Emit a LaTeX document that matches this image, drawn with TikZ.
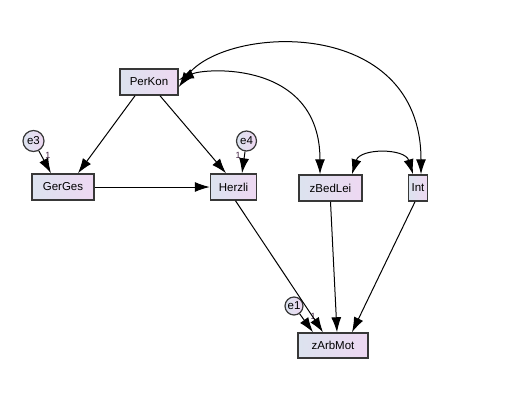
\documentclass[tikz,border=0pt]{standalone}
\usepackage{fontspec}
\setmainfont{Liberation Sans}
\usetikzlibrary{arrows.meta}
\definecolor{boxL}{HTML}{DCE3EF}
\definecolor{boxR}{HTML}{EED8F2}
\definecolor{edgec}{HTML}{383838}
\definecolor{onec}{HTML}{402040}
\tikzset{
  obs/.style={draw=edgec, line width=1.5pt, left color=boxL, right color=boxR,
    inner sep=0pt, font=\fontsize{11.5}{13}\selectfont},
  err/.style={circle, draw=edgec, line width=1.2pt, left color=boxL, right color=boxR,
    inner sep=0pt, font=\fontsize{11.5}{13}\selectfont},
  tip/.style={},
  path/.style={line width=1pt, -{Latex[length=15pt,width=10pt]}},
  cov/.style={line width=1pt, {Latex[length=15pt,width=10pt]}-{Latex[length=15pt,width=10pt]}},
  onelab/.style={font=\fontsize{9}{10}\selectfont, text=onec, inner sep=0pt}
}
\begin{document}
\begin{tikzpicture}[x=1pt,y=-1pt]
\useasboundingbox (0,0) rectangle (510,402);
% observed variables
\node[obs, minimum width=58pt, minimum height=26pt] (PerKon) at (149,82) {PerKon};
\node[obs, minimum width=62pt, minimum height=26pt] (GerGes) at (63,187) {GerGes};
\node[obs, minimum width=46pt, minimum height=26pt] (Herzli) at (233.5,187) {Herzli};
\node[obs, minimum width=63pt, minimum height=26pt] (zBedLei) at (330.5,188) {zBedLei};
\node[obs, minimum width=19pt, minimum height=26pt] (Int) at (418,188) {Int};
\node[obs, minimum width=70pt, minimum height=25pt] (zArbMot) at (333,345.5) {zArbMot};
% errors
\node[err, minimum size=21pt] (e3) at (33.5,141) {e3};
\node[err, minimum size=20pt] (e4) at (246.5,141) {e4};
\node[err, minimum size=18pt] (e1) at (294,306) {e1};
% labels
\node[onelab] (l3) at (48,155) {1};
\node[onelab] (l4) at (238,155) {1};
\node[onelab] (l1) at (313,316) {1};
% regression paths
\draw[path] ([xshift=-14pt]PerKon.south) -- ([xshift=15pt]GerGes.north);
\draw[path] ([xshift=11pt]PerKon.south) -- ([xshift=-7.5pt]Herzli.north);
\draw[path] (GerGes) -- (Herzli);
\draw[path] ([xshift=2pt]Herzli.south) -- ([xshift=-10pt]zArbMot.north);
\draw[path] (zBedLei.south) -- ([xshift=4pt]zArbMot.north);
\draw[path] ([xshift=-3pt]Int.south) -- ([xshift=19pt]zArbMot.north);
% error paths
\draw[path] (e3) -- ([xshift=-12pt]GerGes.north);
\draw[path] (e4) -- ([xshift=8.5pt]Herzli.north);
\draw[path] (e1) -- ([xshift=-20pt]zArbMot.north);
% covariances
\draw[cov] ([yshift=-5pt]PerKon.east) .. controls (225,25) and (421,15) .. ([xshift=3pt]Int.north);
\draw[cov] ([yshift=2pt]PerKon.east) .. controls (205,68) and (320,60) .. ([xshift=-10.5pt]zBedLei.north);
\draw[cov] ([xshift=21.5pt]zBedLei.north) .. controls (360,148) and (405,148) .. ([xshift=-5pt]Int.north);
\end{tikzpicture}
\end{document}
